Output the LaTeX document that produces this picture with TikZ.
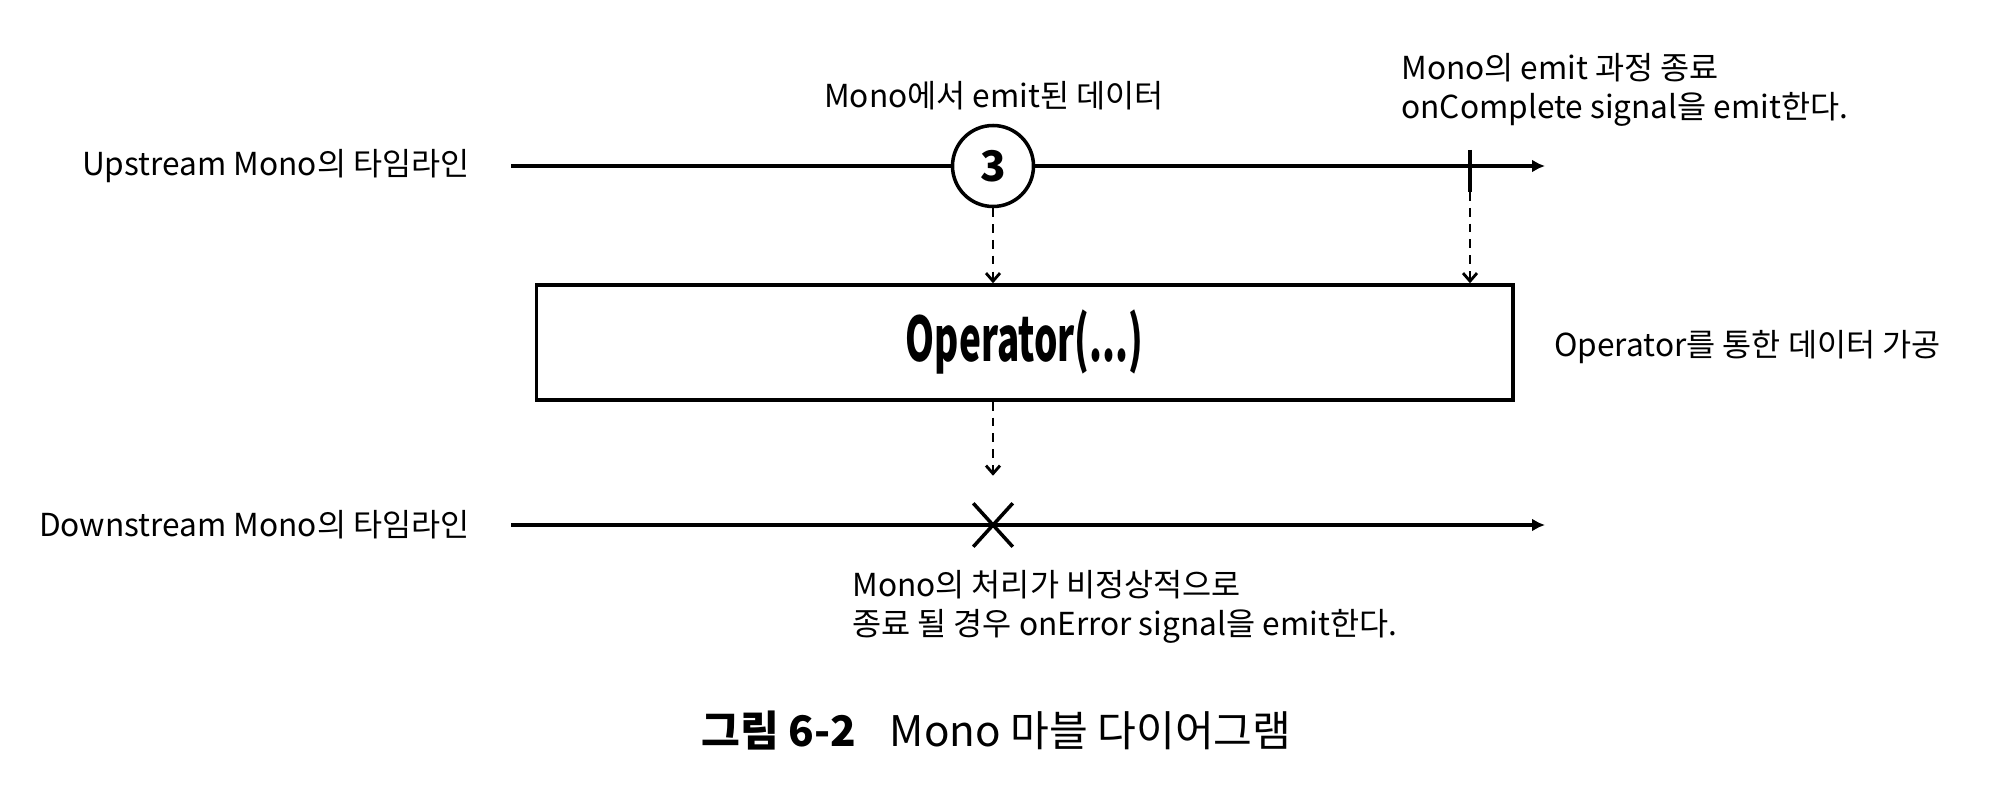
\documentclass[tikz,border=0pt]{standalone}
\usepackage{fontspec}
\setmainfont{Noto Sans CJK KR}
\newfontfamily\opfont[FakeStretch=0.6]{Noto Sans CJK KR}
\usetikzlibrary{arrows.meta,shapes.misc}

\begin{document}
\begin{tikzpicture}[
            note/.style={font=\fontsize{18pt}{22pt}\selectfont,inner sep=0pt,align=left},
            timeline/.style={draw,line width=2pt,-{Latex[width=2.6mm,length=2.6mm]}},
            signal/.style={draw,line width=1.6pt,dash pattern=on 5pt off 4pt,-{Straight Barb[width=2.8mm,length=1.6mm]}}
            ]
            \useasboundingbox (0,0) rectangle (39.84,-16);
            \node[note,anchor=east] (uplabel) at (9.4,-3.32) {Upstream Mono의 타임라인};
            \node[note,anchor=east] (downlabel) at (9.4,-10.5) {Downstream Mono의 타임라인};
            \coordinate (upstart) at (10.22,-3.32);
            \coordinate (upend) at (30.9,-3.32);
            \coordinate (downstart) at (10.22,-10.5);
            \coordinate (downend) at (30.9,-10.5);
            \draw[timeline] (upstart) -- (upend);
            \draw[timeline] (downstart) -- (downend);
            \node[circle,draw,fill=white,line width=2pt,minimum size=1.62cm,inner sep=0pt,
                font=\fontsize{24pt}{24pt}\selectfont\bfseries] (data) at (19.86,-3.32) {3};
            \coordinate (donetop) at (29.4,-3.0);
            \coordinate (donebot) at (29.4,-3.84);
            \draw[line width=2pt] (donetop) -- (donebot);
            \node[draw,line width=2pt,minimum width=19.53cm,minimum height=2.3cm,
                font=\opfont\fontsize{35pt}{35pt}\selectfont\bfseries] (opbox) at (20.49,-6.85) {Operator(...)};
            \node[cross out,draw,line width=2pt,minimum width=0.72cm,minimum height=0.8cm] (error) at (19.86,-10.5) {};
            \draw[signal] (data) -- (opbox.north -| data);
            \draw[signal] (donebot) -- (opbox.north -| donebot);
            \draw[signal,shorten >=0.55cm] (opbox.south -| error) -- (error.north);
            \node[note,anchor=center] (datalabel) at (19.88,-1.92) {Mono에서 emit된 데이터};
            \node[note,anchor=west] (donelabel) at (28.02,-1.8) {Mono의 emit 과정 종료\\onComplete signal을 emit한다.};
            \node[note,anchor=west] (oplabel) at (31.08,-6.94) {Operator를 통한 데이터 가공};
            \node[note,anchor=west] (errlabel) at (17.04,-12.14) {Mono의 처리가 비정상적으로\\종료 될 경우 onError signal을 emit한다.};
            \node[font=\fontsize{24pt}{24pt}\selectfont,inner sep=0pt] (caption) at (19.93,-14.62) {\textbf{그림 6-2}\hspace{0.8em}Mono 마블 다이어그램};
        \end{tikzpicture}
\end{document}
